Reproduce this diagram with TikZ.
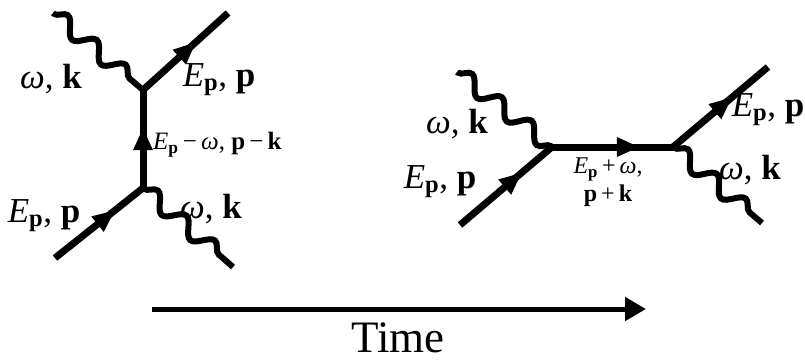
\documentclass[tikz,border=0pt]{standalone}
\usepackage{fontspec}
\setmainfont{Liberation Serif}
\usetikzlibrary{decorations.pathmorphing,decorations.markings,arrows.meta}
\newcommand\Ep{\textit{E}\textsubscript{\textbf{p}}}
\newcommand\om{\textit{ω}}
\begin{document}
\begin{tikzpicture}[x=1pt,y=-1pt,
  fermion/.style={line width=7pt,postaction={decorate},
    decoration={markings,mark=at position #1 with {\fill (1pt,0pt) -- (-21pt,10pt) -- (-21pt,-10pt) -- cycle;}}},
  photon/.style={line width=6pt,decorate,
    decoration={snake,amplitude=8pt,segment length=38pt,pre length=1pt,post length=1pt}},
  lbl/.style={inner sep=0pt,font=\fontsize{35}{37}\selectfont},
  mlbl/.style={inner sep=0pt,font=\fontsize{25}{27}\selectfont},
  rlbl/.style={inner sep=0pt,font=\fontsize{24}{28}\selectfont,align=center},
  timearrow/.style={line width=5pt,-{Triangle[length=21pt 0 0,width=23pt 0]}}]
\useasboundingbox (0,0) rectangle (805,360);
% left diagram
\coordinate (lv1) at (143,90);
\coordinate (lv2) at (143,188);
\coordinate (lin) at (55,258);
\coordinate (lout) at (228,13);
\coordinate (lgin) at (53,13);
\coordinate (lgout) at (233,267);
\draw[fermion=0.67] (lin) -- (lv2);
\draw[fermion=0.60] (lv2) -- (lv1);
\draw[fermion=0.61] (lv1) -- (lout);
\draw[photon] (lgin) -- (lv1);
\draw[photon] (lv2) -- (lgout);
\node[lbl] (l1) at (51,79) {\om, \textbf{k}};
\node[lbl] (l2) at (219,80) {\Ep, \textbf{p}};
\node[mlbl,anchor=west] (l3) at (153,145) {\Ep\,−\,\om, \textbf{p}\,−\,\textbf{k}};
\node[lbl] (l4) at (44,216) {\Ep, \textbf{p}};
\node[lbl] (l5) at (211,209) {\om, \textbf{k}};
% right diagram
\coordinate (rv1) at (552,147);
\coordinate (rv2) at (673,147);
\coordinate (rin) at (460,225);
\coordinate (rout) at (768,67);
\coordinate (rgin) at (457,72);
\coordinate (rgout) at (762,223);
\draw[fermion=0.66] (rin) -- (rv1);
\draw[fermion=0.71] (rv1) -- (rv2);
\draw[fermion=0.61] (rv2) -- (rout);
\draw[photon] (rgin) -- (rv1);
\draw[photon] (rv2) -- (rgout);
\node[lbl] (r1) at (457,124) {\om, \textbf{k}};
\node[lbl] (r2) at (440,182) {\Ep, \textbf{p}};
\node[rlbl] (r3) at (608,182) {\Ep\,+\,\om,\\\textbf{p}\,+\,\textbf{k}};
\node[lbl] (r4) at (768,110) {\Ep, \textbf{p}};
\node[lbl] (r5) at (750,170) {\om, \textbf{k}};
% time arrow
\coordinate (t1) at (152,309);
\coordinate (t2) at (646,309);
\draw[timearrow] (t1) -- (t2);
\node[inner sep=0pt,anchor=base,font=\fontsize{45}{47}\selectfont] (time) at (398,352) {Time};
\end{tikzpicture}
\end{document}
